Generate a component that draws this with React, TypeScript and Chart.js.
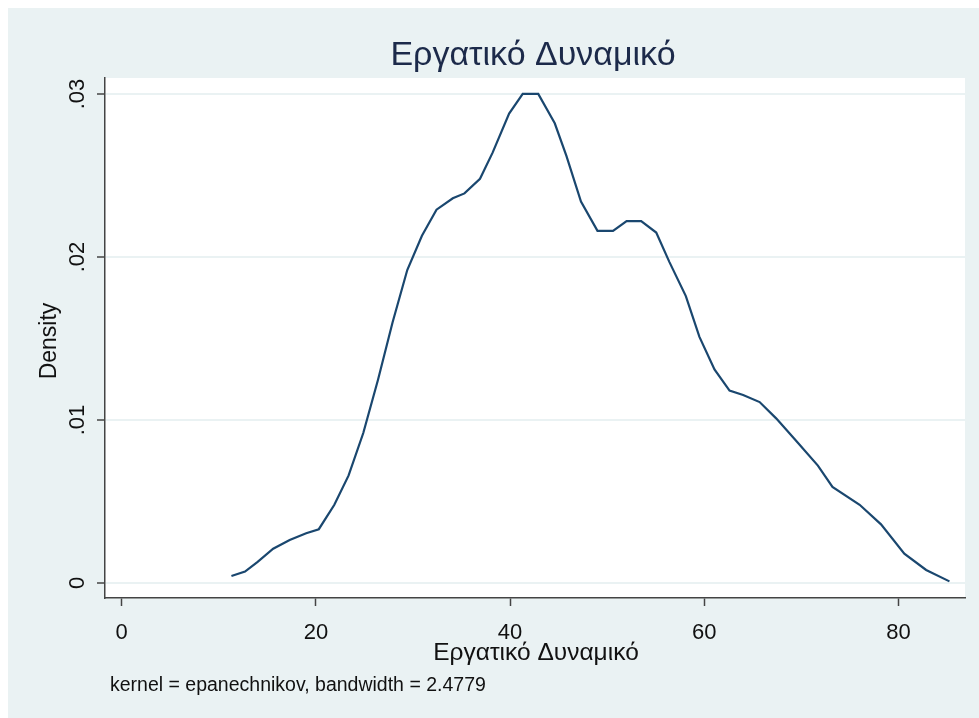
import React, { useEffect, useRef } from "react";
import { Chart, registerables } from "chart.js";

Chart.register(...registerables);

const xValues = [
  11.3, 12.7, 14.0, 15.6, 17.3, 19.0, 20.3, 21.9, 23.37, 24.88, 26.39, 27.9,
  29.41, 30.92, 32.42, 34.1, 35.3, 36.9, 38.2, 39.9, 41.3, 42.9, 44.6, 45.8,
  47.3, 49.0, 50.6, 52.0, 53.5, 55.05, 56.4, 58.1, 59.5, 61.05, 62.6, 64.0, 65.7,
  67.4, 69.5, 71.7, 73.2, 76.0, 78.2, 80.6, 82.85, 85.25,
];
const densityValues = [
  0.00043, 0.0007, 0.0013, 0.0021, 0.00264, 0.00305, 0.0033, 0.0048, 0.0066,
  0.0092, 0.01245, 0.016, 0.0192, 0.0213, 0.0229, 0.0236, 0.0239, 0.0248, 0.0264,
  0.0288, 0.03, 0.03, 0.0282, 0.0262, 0.0234, 0.0216, 0.0216, 0.0222, 0.0222,
  0.0215, 0.0197, 0.0176, 0.0151, 0.0131, 0.0118, 0.01153, 0.0111, 0.0101,
  0.0087, 0.0072, 0.0059, 0.0048, 0.0036, 0.0018, 0.0008, 0.0001,
];
const xTickValues = [0, 20, 40, 60, 80];
const xTickLabels = ["0", "20", "40", "60", "80"];
const yTickValues = [0, 0.01, 0.02, 0.03];
const yTickLabels = ["0", ".01", ".02", ".03"];
const chartTitle = "Εργατικό Δυναμικό";
const xAxisTitle = "Εργατικό Δυναμικό";
const yAxisTitle = "Density";
const noteText = "kernel = epanechnikov, bandwidth = 2.4779";

const FONT = "'Liberation Sans', Arial, Helvetica, sans-serif";

const decorPlugin = {
  id: "decor",
  beforeDraw(chart: any) {
    const { ctx, chartArea: a, width, height } = chart;
    ctx.save();
    ctx.fillStyle = "#ffffff";
    ctx.fillRect(0, 0, width, height);
    ctx.fillStyle = "#eaf2f3";
    ctx.fillRect(8, 8, width - 8, height - 8);
    ctx.fillStyle = "#ffffff";
    ctx.fillRect(a.left, a.top, a.right - a.left, a.bottom - a.top);
    ctx.restore();
  },
  afterDraw(chart: any) {
    const { ctx, chartArea: a } = chart;
    const ys = chart.scales.y;
    ctx.save();
    // main title
    ctx.fillStyle = "#1c2a4a";
    ctx.font = `34px ${FONT}`;
    ctx.textAlign = "center";
    ctx.textBaseline = "alphabetic";
    ctx.fillText(chartTitle, 533, 65);
    // x axis title
    ctx.fillStyle = "#111111";
    ctx.font = `24.5px ${FONT}`;
    ctx.fillText(xAxisTitle, 536, 660);
    // note
    ctx.font = `19.5px ${FONT}`;
    ctx.textAlign = "left";
    ctx.fillText(noteText, 110, 691);
    // y tick labels, rotated
    ctx.font = `22px ${FONT}`;
    ctx.textAlign = "center";
    ctx.textBaseline = "alphabetic";
    ys.ticks.forEach((t: any, i: number) => {
      const py = ys.getPixelForValue(t.value);
      ctx.save();
      ctx.translate(84, py);
      ctx.rotate(-Math.PI / 2);
      ctx.fillText(yTickLabels[i], 0, 0);
      ctx.restore();
    });
    // y axis title
    ctx.font = `23px ${FONT}`;
    ctx.save();
    ctx.translate(56, (a.top + a.bottom) / 2 + 3);
    ctx.rotate(-Math.PI / 2);
    ctx.fillText(yAxisTitle, 0, 0);
    ctx.restore();
    ctx.restore();
  },
};

export default function App() {
  const canvasRef = useRef<HTMLCanvasElement | null>(null);

  useEffect(() => {
    const canvas = canvasRef.current;
    if (!canvas) return;
    const points = xValues.map((x, i) => ({ x, y: densityValues[i] }));
    const chart = new Chart(canvas, {
      type: "line",
      data: {
        datasets: [
          {
            data: points,
            borderColor: "#1a476f",
            borderWidth: 2.2,
            pointRadius: 0,
            tension: 0,
            fill: false,
          },
        ],
      },
      options: {
        animation: false,
        responsive: false,
        maintainAspectRatio: false,
        layout: { padding: { top: 78, right: 14, left: 0, bottom: 0 } },
        plugins: {
          legend: { display: false },
          tooltip: { enabled: false },
          title: { display: false },
        },
        scales: {
          x: {
            type: "linear",
            min: -1.72,
            max: 86.85,
            afterBuildTicks: (s: any) => {
              s.ticks = xTickValues.map((v) => ({ value: v }));
            },
            afterFit: (s: any) => {
              s.height = 120;
            },
            ticks: {
              autoSkip: false,
              maxRotation: 0,
              minRotation: 0,
              padding: 14,
              color: "#111111",
              font: { family: FONT, size: 22 },
              callback: (v: any) => {
                const i = xTickValues.indexOf(Number(v));
                return i >= 0 ? xTickLabels[i] : "";
              },
            },
            grid: {
              drawOnChartArea: false,
              drawTicks: true,
              tickLength: 8,
              tickColor: "#444444",
              tickWidth: 1.5,
            },
            border: { display: true, color: "#444444", width: 1.5 },
          },
          y: {
            type: "linear",
            min: -0.00092,
            max: 0.03098,
            afterBuildTicks: (s: any) => {
              s.ticks = yTickValues.map((v) => ({ value: v }));
            },
            afterFit: (s: any) => {
              s.width = 105;
            },
            ticks: { display: false },
            grid: {
              drawOnChartArea: true,
              color: "#eaf2f3",
              lineWidth: 2,
              drawTicks: true,
              tickLength: 8,
              tickColor: "#444444",
              tickWidth: 1.5,
            },
            border: { display: true, color: "#444444", width: 1.5 },
          },
        },
      },
      plugins: [decorPlugin],
    });
    return () => chart.destroy();
  }, []);

  return (
    <div style={{ position: "absolute", left: 0, top: 0, width: 979, height: 718 }}>
      <canvas ref={canvasRef} width={979} height={718} style={{ display: "block", width: 979, height: 718 }} />
    </div>
  );
}
